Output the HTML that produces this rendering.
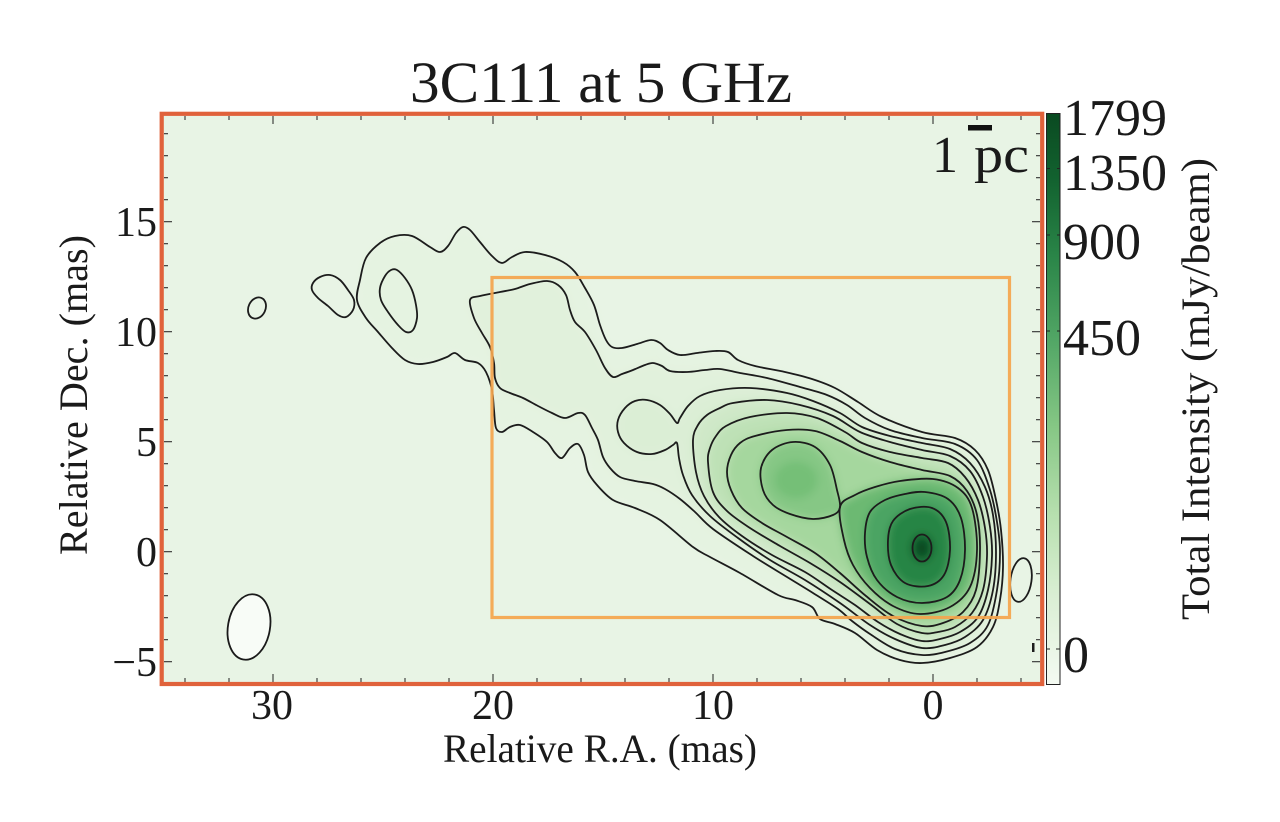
<!DOCTYPE html>
<html>
<head>
<meta charset="utf-8">
<style>
  html,body{margin:0;padding:0;background:#ffffff;}
  svg{display:block;}
  text{font-family:"Liberation Serif","DejaVu Serif",serif;fill:#1a1a1a;}
</style>
</head>
<body>
<svg width="1280" height="822" viewBox="0 0 1280 822" xmlns="http://www.w3.org/2000/svg">
  <defs>
    <clipPath id="plotclip"><rect x="162" y="114" width="880" height="570"/></clipPath>
    <filter id="blur" x="-20%" y="-20%" width="140%" height="140%">
      <feGaussianBlur stdDeviation="4.5"/>
    </filter>
    <linearGradient id="cbar" x1="0" y1="0" x2="0" y2="1">
      <stop offset="0" stop-color="#0a4a21"/>
      <stop offset="0.12" stop-color="#136330"/>
      <stop offset="0.25" stop-color="#2a8548"/>
      <stop offset="0.40" stop-color="#53a766"/>
      <stop offset="0.55" stop-color="#86c785"/>
      <stop offset="0.70" stop-color="#b6dfae"/>
      <stop offset="0.85" stop-color="#dbefd5"/>
      <stop offset="1" stop-color="#f4faf2"/>
    </linearGradient>
  </defs>

  <!-- plot background -->
  <rect x="162" y="114" width="880" height="570" fill="#e8f4e5"/>

  <!-- shading -->
  <g clip-path="url(#plotclip)" filter="url(#blur)">
    <path class="sm" fill="#e5f3e1" d="M357,300 L360,280 366,258 380,243 395,236 412,236 430,247 440,252 448,246 456,233 463,227 470,230 480,242 492,256 502,263 512,257 525,252 545,255 563,262 575,272 585,288 594,305 600,325 606,340 612,347 622,348 637,344 651,340 660,343 668,350 680,355 697,353 715,351 728,352 738,360 755,366 785,372 812,379 835,388 858,402 882,417 922,432 955,438 975,450 988,470 996,500 1001,530 1003,567 1000,600 993,627 977,647 950,658 922,663 900,660 877,650 855,633 835,624 820,619 812,607 795,600 778,595 740,573 710,557 693,547 660,520 635,508 613,500 597,485 588,472 584,455 578,444 570,448 562,458 555,453 547,442 533,432 520,425 510,427 502,432 496,428 494,410 492,390 486,372 478,363 465,360 455,353 447,357 433,362 418,364 405,360 392,348 378,332 366,318 Z"/>
    <path class="sm" fill="#e1f1dc" d="M470,300 L480,296 500,292 515,289 530,284 547,281 558,285 566,295 570,310 575,322 585,332 596,350 605,368 613,377 622,374 633,370 645,365 653,363 662,366 670,371 687,372 705,370 720,369 740,373 767,378 800,387 827,395 847,405 865,418 890,430 922,438 955,444 977,460 990,490 997,522 1000,552 997,590 988,625 970,643 945,652 922,655 895,649 870,634 852,621 838,609 813,593 787,577 753,556 713,529 695,512 680,499 665,489 653,484 635,481 620,477 610,468 603,457 598,440 592,428 585,415 578,413 565,418 552,413 538,406 523,398 510,393 500,388 495,378 494,363 490,347 482,333 474,318 Z"/>
    <path class="sm" fill="#dbeed5" d="M677,423 L670,414 660,405 647,400 635,401 625,408 618,420 618,432 624,443 637,452 652,454 665,450 673,445 677,443 679,458 683,475 692,495 710,516 738,538 770,560 805,580 840,603 870,625 895,639 922,648 945,645 965,637 983,620 993,590 996,552 993,515 985,487 970,463 950,449 922,443 890,436 862,427 840,413 813,401 787,393 750,388 720,390 700,396 688,406 680,418 Z"/>
    <path class="sm" fill="#cfe8c8" d="M693,440 L698,425 707,415 720,408 733,403 767,400 800,405 833,416 860,432 890,442 922,450 950,456 970,471 983,497 990,527 992,556 988,590 978,617 960,632 940,639 922,641 900,634 878,622 855,605 832,590 805,572 772,555 742,536 719,517 704,496 696,472 Z"/>
    <path class="sm" fill="#bee1b6" d="M708,462 L710,448 716,436 726,426 750,417 787,413 817,418 845,432 862,443 890,452 922,458 948,463 965,477 978,500 985,528 987,556 983,590 972,613 955,627 938,632 922,633 897,624 870,604 840,582 810,563 780,546 750,528 727,511 713,492 Z"/>
    <path class="sm" fill="#a5d79e" d="M727,472 L731,455 740,443 755,436 787,430 815,431 840,441 862,452 890,462 922,470 950,476 967,491 977,515 980,550 976,590 963,612 943,623 922,626 893,616 866,596 840,573 815,553 787,537 762,523 742,508 731,490 Z"/>
    <path class="sm" fill="#86c785" d="M840,507 L837,490 830,465 815,447 793,442 772,450 761,468 763,490 773,505 790,514 813,519 833,515 Z"/>
    <ellipse cx="796" cy="480" rx="22" ry="19" fill="#74bf77"/>
    <path class="sm" fill="#6cb972" d="M840,507 L855,495 875,487 900,481 933,479 958,488 972,508 977,550 970,587 950,607 920,614 893,606 870,588 853,565 844,540 Z"/>
    <path class="sm" fill="#4ba463" d="M865,533 L870,512 885,500 905,494 925,492 948,499 961,518 965,550 960,580 947,597 922,603 897,597 877,580 867,557 Z"/>
    <path class="sm" fill="#288545" d="M888,540 L893,521 910,509 932,508 946,522 950,550 944,575 928,586 905,583 891,565 Z"/>
    <ellipse cx="922" cy="548" rx="11" ry="14" fill="#0d5a2b"/>
    <ellipse cx="922" cy="548" rx="5" ry="7" fill="#083f1c"/>
  </g>

  <!-- beam ellipse -->
  <ellipse cx="249" cy="627" rx="21" ry="33" transform="rotate(10 249 627)" fill="#f8fcf7" stroke="#1a1a1a" stroke-width="1.8"/>

  <!-- contours -->
  <g fill="none" stroke="#1c1c1c" stroke-width="1.8" stroke-linejoin="round" stroke-linecap="round" clip-path="url(#plotclip)">
    <path class="sm" d="M357,300 L360,280 366,258 380,243 395,236 412,236 430,247 440,252 448,246 456,233 463,227 470,230 480,242 492,256 502,263 512,257 525,252 545,255 563,262 575,272 585,288 594,305 600,325 606,340 612,347 622,348 637,344 651,340 660,343 668,350 680,355 697,353 715,351 728,352 738,360 755,366 785,372 812,379 835,388 858,402 882,417 922,432 955,438 975,450 988,470 996,500 1001,530 1003,567 1000,600 993,627 977,647 950,658 922,663 900,660 877,650 855,633 835,624 820,619 812,607 795,600 778,595 740,573 710,557 693,547 660,520 635,508 613,500 597,485 588,472 584,455 578,444 570,448 562,458 555,453 547,442 533,432 520,425 510,427 502,432 496,428 494,410 492,390 486,372 478,363 465,360 455,353 447,357 433,362 418,364 405,360 392,348 378,332 366,318 Z"/>
    <path class="sm" d="M313,283 L320,277 330,275 340,280 348,290 354,300 353,310 346,317 338,315 328,306 318,298 312,290 Z"/>
    <path class="sm" d="M397,270 L405,278 412,290 416,305 417,318 413,330 406,332 398,325 388,312 381,300 380,288 385,276 391,270 Z"/>
    <ellipse cx="257" cy="308" rx="8.5" ry="11" transform="rotate(25 257 308)"/>
    <path class="sm" d="M470,300 L480,296 500,292 515,289 530,284 547,281 558,285 566,295 570,310 575,322 585,332 596,350 605,368 613,377 622,374 633,370 645,365 653,363 662,366 670,371 687,372 705,370 720,369 740,373 767,378 800,387 827,395 847,405 865,418 890,430 922,438 955,444 977,460 990,490 997,522 1000,552 997,590 988,625 970,643 945,652 922,655 895,649 870,634 852,621 838,609 813,593 787,577 753,556 713,529 695,512 680,499 665,489 653,484 635,481 620,477 610,468 603,457 598,440 592,428 585,415 578,413 565,418 552,413 538,406 523,398 510,393 500,388 495,378 494,363 490,347 482,333 474,318 Z"/>
    <path class="sm" d="M677,423 L670,414 660,405 647,400 635,401 625,408 618,420 618,432 624,443 637,452 652,454 665,450 673,445 677,443 679,458 683,475 692,495 710,516 738,538 770,560 805,580 840,603 870,625 895,639 922,648 945,645 965,637 983,620 993,590 996,552 993,515 985,487 970,463 950,449 922,443 890,436 862,427 840,413 813,401 787,393 750,388 720,390 700,396 688,406 680,418 Z"/>
    <path class="sm" d="M693,440 L698,425 707,415 720,408 733,403 767,400 800,405 833,416 860,432 890,442 922,450 950,456 970,471 983,497 990,527 992,556 988,590 978,617 960,632 940,639 922,641 900,634 878,622 855,605 832,590 805,572 772,555 742,536 719,517 704,496 696,472 Z"/>
    <path class="sm" d="M708,462 L710,448 716,436 726,426 750,417 787,413 817,418 845,432 862,443 890,452 922,458 948,463 965,477 978,500 985,528 987,556 983,590 972,613 955,627 938,632 922,633 897,624 870,604 840,582 810,563 780,546 750,528 727,511 713,492 Z"/>
    <path class="sm" d="M727,472 L731,455 740,443 755,436 787,430 815,431 840,441 862,452 890,462 922,470 950,476 967,491 977,515 980,550 976,590 963,612 943,623 922,626 893,616 866,596 840,573 815,553 787,537 762,523 742,508 731,490 Z"/>
    <path class="sm" d="M840,507 L837,490 830,465 815,447 793,442 772,450 761,468 763,490 773,505 790,514 813,519 833,515 Z"/>
    <path class="sm" d="M840,507 L855,495 875,487 900,481 933,479 958,488 972,508 977,550 970,587 950,607 920,614 893,606 870,588 853,565 844,540 Z"/>
    <path class="sm" d="M865,533 L870,512 885,500 905,494 925,492 948,499 961,518 965,550 960,580 947,597 922,603 897,597 877,580 867,557 Z"/>
    <path class="sm" d="M888,540 L893,521 910,509 932,508 946,522 950,550 944,575 928,586 905,583 891,565 Z"/>
    <ellipse cx="922" cy="548" rx="9.5" ry="13.5"/>
    <ellipse cx="1021" cy="580" rx="10.5" ry="22" transform="rotate(8 1021 580)"/>
  </g>
  <rect x="1032" y="643" width="2.5" height="9" fill="#1c1c1c"/>

  <!-- inner orange rectangle -->
  <rect x="492" y="277.5" width="517.5" height="340" fill="none" stroke="#f4a44c" stroke-width="3.2" opacity="0.92"/>

  <!-- ticks -->
  <g stroke="#333" stroke-width="1.1" fill="none">
    <path d="M273,682V674 M493,682V674 M713,682V674 M933,682V674 M273,116V124 M493,116V124 M713,116V124 M933,116V124"/>
    <path d="M1021,682V678 M977,682V678 M889,682V678 M845,682V678 M801,682V678 M757,682V678 M669,682V678 M625,682V678 M581,682V678 M537,682V678 M449,682V678 M405,682V678 M361,682V678 M317,682V678 M229,682V678 M185,682V678
             M1021,116V120 M977,116V120 M889,116V120 M845,116V120 M801,116V120 M757,116V120 M669,116V120 M625,116V120 M581,116V120 M537,116V120 M449,116V120 M405,116V120 M361,116V120 M317,116V120 M229,116V120 M185,116V120"/>
    <path d="M164,661.7H172 M164,551.7H172 M164,441.7H172 M164,331.7H172 M164,221.7H172 M1040,661.7H1032 M1040,551.7H1032 M1040,441.7H1032 M1040,331.7H1032 M1040,221.7H1032"/>
    <path d="M164,639.7H168 M164,617.7H168 M164,595.7H168 M164,573.7H168 M164,529.7H168 M164,507.7H168 M164,485.7H168 M164,463.7H168 M164,419.7H168 M164,397.7H168 M164,375.7H168 M164,353.7H168 M164,309.7H168 M164,287.7H168 M164,265.7H168 M164,243.7H168 M164,199.7H168 M164,177.7H168 M164,155.7H168 M164,133.7H168
             M1040,639.7H1036 M1040,617.7H1036 M1040,595.7H1036 M1040,573.7H1036 M1040,529.7H1036 M1040,507.7H1036 M1040,485.7H1036 M1040,463.7H1036 M1040,419.7H1036 M1040,397.7H1036 M1040,375.7H1036 M1040,353.7H1036 M1040,309.7H1036 M1040,287.7H1036 M1040,265.7H1036 M1040,243.7H1036 M1040,199.7H1036 M1040,177.7H1036 M1040,155.7H1036 M1040,133.7H1036"/>
  </g>

  <!-- outer border -->
  <rect x="161.7" y="113.8" width="880.5" height="570.2" fill="none" stroke="#e0623b" stroke-width="4.2"/>

  <!-- scale bar -->
  <rect x="968" y="125" width="24" height="5.5" fill="#111"/>
  <text x="932" y="172" font-size="52">1</text>
  <text x="974" y="172" font-size="52" textLength="55" lengthAdjust="spacingAndGlyphs">pc</text>

  <!-- colorbar -->
  <rect x="1046.5" y="113.5" width="13.5" height="571" fill="url(#cbar)" stroke="#222" stroke-width="1"/>
  <g stroke="#222" stroke-width="1">
    <path d="M1047,168.5H1050 M1047,235H1050 M1047,331H1050 M1047,649H1050 M1060,168.5H1057 M1060,235H1057 M1060,331H1057 M1060,649H1056"/>
  </g>
  <text x="1063" y="135" font-size="52" textLength="104" lengthAdjust="spacingAndGlyphs">1799</text>
  <text x="1063" y="190" font-size="52" textLength="104" lengthAdjust="spacingAndGlyphs">1350</text>
  <text x="1063" y="259" font-size="52" textLength="78" lengthAdjust="spacingAndGlyphs">900</text>
  <text x="1063" y="355" font-size="52" textLength="78" lengthAdjust="spacingAndGlyphs">450</text>
  <text x="1063" y="672" font-size="52">0</text>
  <text transform="translate(1209,389) rotate(-90)" text-anchor="middle" font-size="40" textLength="462" lengthAdjust="spacingAndGlyphs">Total Intensity (mJy/beam)</text>

  <!-- title -->
  <text x="601" y="102" text-anchor="middle" font-size="58" textLength="382" lengthAdjust="spacingAndGlyphs">3C111 at 5 GHz</text>

  <!-- y tick labels -->
  <g font-size="42" text-anchor="end">
    <text x="157" y="236">15</text>
    <text x="157" y="346">10</text>
    <text x="157" y="456">5</text>
    <text x="157" y="566">0</text>
    <text x="157" y="676">−5</text>
  </g>
  <!-- x tick labels -->
  <g font-size="42" text-anchor="middle">
    <text x="272" y="719">30</text>
    <text x="493" y="719">20</text>
    <text x="713" y="719">10</text>
    <text x="933" y="719">0</text>
  </g>

  <!-- axis labels -->
  <text x="600" y="762" text-anchor="middle" font-size="40" textLength="314" lengthAdjust="spacingAndGlyphs">Relative R.A. (mas)</text>
  <text transform="translate(87,395) rotate(-90)" text-anchor="middle" font-size="40" textLength="320" lengthAdjust="spacingAndGlyphs">Relative Dec. (mas)</text>
</svg>
<script>
(function(){
  var paths=document.querySelectorAll('path.sm');
  for(var k=0;k<paths.length;k++){
    var p=paths[k];
    var nums=p.getAttribute('d').match(/-?\d+(\.\d+)?/g).map(Number);
    var pts=[];
    for(var i=0;i+1<nums.length;i+=2){pts.push([nums[i],nums[i+1]]);}
    var n=pts.length;
    if(n<3)continue;
    var t=1/6;
    var d='M'+pts[0][0]+','+pts[0][1];
    for(var j=0;j<n;j++){
      var p0=pts[(j-1+n)%n],p1=pts[j],p2=pts[(j+1)%n],p3=pts[(j+2)%n];
      var c1x=p1[0]+(p2[0]-p0[0])*t,c1y=p1[1]+(p2[1]-p0[1])*t;
      var c2x=p2[0]-(p3[0]-p1[0])*t,c2y=p2[1]-(p3[1]-p1[1])*t;
      d+=' C'+c1x.toFixed(2)+','+c1y.toFixed(2)+' '+c2x.toFixed(2)+','+c2y.toFixed(2)+' '+p2[0]+','+p2[1];
    }
    p.setAttribute('d',d+'Z');
  }
})();
</script>
</body>
</html>
